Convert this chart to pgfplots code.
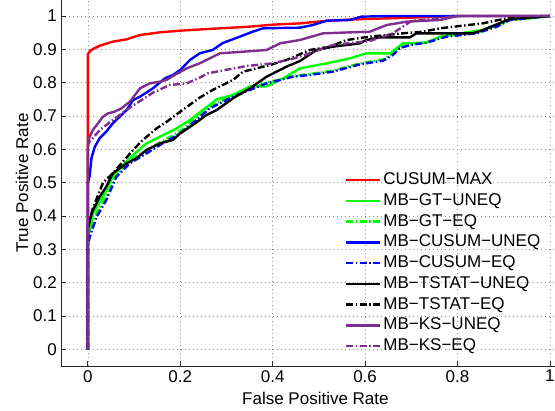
\documentclass[border=0pt]{standalone}
\usepackage{fontspec}
\setmainfont{Liberation Sans}
\usepackage{pgfplots}
\pgfplotsset{compat=1.18}

\definecolor{mpurple}{rgb}{0.494,0.184,0.556}
\newcommand{\fs}{\fontsize{17}{20}\selectfont}

\begin{document}
\begin{tikzpicture}
\begin{axis}[
    name=ax,
    scale only axis,
    width=494pt, height=366pt,
    xmin=-0.058, xmax=1.011,
    ymin=-0.05, ymax=1.048,
    axis x line*=bottom, axis y line*=left,
    axis line style={-, line width=0.8pt, black!85},
    tick align=inside,
    major tick length=5pt,
    tick style={line width=0.8pt, black!85},
    xtick={0,0.2,...,1}, ytick={0,0.1,...,1},
    /pgf/number format/assume math mode=true,
    tick label style={font=\fs},
    xticklabel style={anchor=north, inner sep=0pt, yshift=-4pt},
    yticklabel style={anchor=east, inner sep=0pt, xshift=-4pt},
    grid=major,
    grid style={black!45, line width=0.6pt, dash pattern=on 1pt off 3pt},
    xlabel={False Positive Rate},
    ylabel={True Positive Rate},
    label style={font=\fs},
    xlabel style={at={(axis description cs:0.515,-0.071)}, anchor=north, inner sep=0pt},
    ylabel style={at={(axis description cs:-0.079,0.5)}, anchor=center, inner sep=0pt},
    every axis plot/.append style={line width=2.4pt},
    legend cell align=left,
    legend style={at={(axis description cs:0.575,0.534)}, anchor=north west,
        draw=none, fill=none, inner sep=0pt, outer sep=0pt, font=\fs,
        row sep=1.75pt, column sep=0pt,
        nodes={inner sep=2pt, text height=12pt, text depth=3pt}},
    legend image code/.code={\draw[line width=2.4pt, #1] (0pt,0pt) -- (34pt,0pt);},
]
% CUSUM-MAX
\addplot[red] coordinates {
(0,0)(0,0.885)(0.005,0.895)(0.01,0.9)(0.026,0.911)(0.054,0.923)(0.084,0.93)
(0.113,0.943)(0.156,0.951)(0.2,0.956)(0.26,0.961)(0.35,0.968)(0.4,0.974)
(0.46,0.978)(0.52,0.986)(0.6,0.991)(0.7,0.995)(0.8,1)(1,1)};
\addlegendentry{CUSUM−MAX}
% MB-GT-UNEQ
\addplot[green] coordinates {
(0,0)(0,0.34)(0.004,0.357)(0.011,0.408)(0.033,0.458)(0.054,0.518)(0.076,0.553)
(0.098,0.583)(0.127,0.618)(0.156,0.638)(0.192,0.663)(0.221,0.688)(0.249,0.718)
(0.279,0.75)(0.314,0.763)(0.351,0.789)(0.387,0.789)(0.423,0.813)(0.459,0.843)
(0.517,0.858)(0.567,0.873)(0.603,0.888)(0.654,0.888)(0.682,0.918)(0.733,0.92)
(0.762,0.938)(0.805,0.948)(0.855,0.958)(0.885,0.973)(0.913,0.988)(0.957,0.993)(1,1)};
\addlegendentry{MB−GT−UNEQ}
% MB-GT-EQ
\addplot[green, dash pattern=on 7pt off 2.5pt on 1.5pt off 2.5pt] coordinates {
(0,0)(0,0.33)(0.004,0.35)(0.019,0.41)(0.04,0.46)(0.062,0.525)(0.091,0.565)
(0.127,0.598)(0.162,0.625)(0.2,0.655)(0.235,0.695)(0.264,0.728)(0.314,0.762)
(0.387,0.8)(0.444,0.82)(0.48,0.826)(0.53,0.836)(0.589,0.858)(0.639,0.87)
(0.66,0.888)(0.675,0.906)(0.697,0.915)(0.733,0.922)(0.776,0.94)(0.841,0.95)
(0.885,0.97)(0.913,0.988)(1,1)};
\addlegendentry{MB−GT−EQ}
% MB-CUSUM-UNEQ
\addplot[blue] coordinates {
(0,0)(0,0.5)(0.004,0.52)(0.008,0.574)(0.015,0.607)(0.026,0.634)(0.04,0.653)
(0.054,0.678)(0.069,0.698)(0.084,0.718)(0.098,0.748)(0.113,0.758)(0.141,0.783)
(0.167,0.813)(0.184,0.823)(0.2,0.838)(0.221,0.868)(0.242,0.888)(0.27,0.898)
(0.292,0.919)(0.329,0.938)(0.357,0.953)(0.379,0.963)(0.459,0.965)(0.487,0.973)
(0.517,0.986)(0.567,0.988)(0.592,0.998)(0.65,1)(1,1)};
\addlegendentry{MB−CUSUM−UNEQ}
% MB-CUSUM-EQ
\addplot[blue, dash pattern=on 7pt off 2.5pt on 1.5pt off 2.5pt] coordinates {
(0,0)(0,0.31)(0.004,0.337)(0.019,0.397)(0.04,0.448)(0.062,0.518)(0.091,0.558)
(0.127,0.588)(0.162,0.618)(0.2,0.648)(0.235,0.688)(0.264,0.723)(0.314,0.758)
(0.387,0.798)(0.444,0.818)(0.48,0.823)(0.53,0.833)(0.589,0.855)(0.639,0.866)
(0.66,0.883)(0.675,0.903)(0.697,0.913)(0.733,0.92)(0.776,0.938)(0.841,0.948)
(0.885,0.968)(0.913,0.988)(1,1)};
\addlegendentry{MB−CUSUM−EQ}
% MB-TSTAT-UNEQ
\addplot[black] coordinates {
(0,0)(0,0.37)(0.004,0.387)(0.011,0.417)(0.026,0.458)(0.04,0.488)(0.054,0.528)
(0.084,0.558)(0.105,0.573)(0.127,0.598)(0.156,0.618)(0.184,0.628)(0.2,0.648)
(0.227,0.673)(0.257,0.703)(0.279,0.718)(0.314,0.753)(0.351,0.783)(0.387,0.818)
(0.43,0.848)(0.459,0.865)(0.495,0.898)(0.53,0.908)(0.589,0.918)(0.603,0.928)
(0.632,0.936)(0.697,0.936)(0.711,0.948)(0.834,0.948)(0.855,0.958)(0.899,0.983)
(0.913,0.991)(1,1)};
\addlegendentry{MB−TSTAT−UNEQ}
% MB-TSTAT-EQ
\addplot[black, dash pattern=on 7pt off 2.5pt on 1.5pt off 2.5pt] coordinates {
(0,0)(0,0.36)(0.01,0.42)(0.033,0.5)(0.054,0.528)(0.076,0.563)(0.098,0.598)
(0.119,0.628)(0.149,0.663)(0.171,0.683)(0.2,0.713)(0.242,0.755)(0.27,0.778)
(0.314,0.808)(0.336,0.833)(0.365,0.843)(0.394,0.853)(0.43,0.868)(0.48,0.898)
(0.524,0.908)(0.56,0.928)(0.61,0.938)(0.682,0.948)(0.725,0.953)(0.762,0.963)
(0.855,0.978)(0.899,0.991)(0.928,0.998)(1,1)};
\addlegendentry{MB−TSTAT−EQ}
% MB-KS-UNEQ
\addplot[mpurple] coordinates {
(0,0)(0,0.6)(0.001,0.623)(0.004,0.638)(0.011,0.658)(0.022,0.678)(0.033,0.698)
(0.044,0.708)(0.058,0.713)(0.073,0.723)(0.091,0.743)(0.113,0.783)(0.134,0.798)
(0.156,0.803)(0.17,0.808)(0.188,0.823)(0.214,0.843)(0.242,0.858)(0.264,0.873)
(0.286,0.888)(0.387,0.898)(0.416,0.918)(0.459,0.928)(0.509,0.948)(0.61,0.953)
(0.647,0.973)(0.69,0.983)(0.762,0.988)(0.8,1)(1,1)};
\addlegendentry{MB−KS−UNEQ}
% MB-KS-EQ
\addplot[mpurple, dash pattern=on 7pt off 2.5pt on 1.5pt off 2.5pt] coordinates {
(0,0)(0,0.6)(0.001,0.618)(0.026,0.658)(0.054,0.688)(0.084,0.718)(0.113,0.745)
(0.141,0.77)(0.177,0.793)(0.214,0.798)(0.242,0.815)(0.26,0.828)(0.286,0.835)
(0.344,0.85)(0.4,0.858)(0.444,0.872)(0.48,0.888)(0.53,0.913)(0.61,0.925)
(0.66,0.948)(0.7,0.985)(0.784,0.998)(0.81,1)(1,1)};
\addlegendentry{MB−KS−EQ}
\end{axis}
\pgfresetboundingbox
\path[use as bounding box] ([shift={(-61pt,-44pt)}]ax.south west) rectangle (ax.north east);
\end{tikzpicture}
\end{document}
